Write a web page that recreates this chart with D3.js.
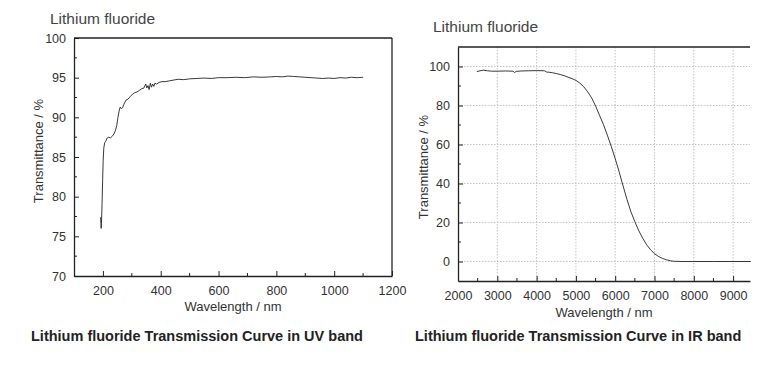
<!DOCTYPE html>
<html>
<head>
<meta charset="utf-8">
<title>Lithium fluoride</title>
<script src="https://cdn.jsdelivr.net/npm/d3@7"></script>
<style>
  body { margin: 0; background: #fff; }
  text { font-family: "Liberation Sans", Arial, sans-serif; }
</style>
</head>
<body>
<svg width="774" height="373" id="mainsvg"></svg>
<script>
// UV band: wavelength (nm), transmittance (%)
const uvWave = [192, 194, 195, 197, 199, 201, 203, 206, 210, 215, 220, 226, 232, 238, 243, 248, 252, 256, 260, 264, 268, 272, 276, 281, 287, 294, 302, 310, 318, 326, 334, 342, 348, 352, 356, 360, 364, 368, 372, 376, 380, 386, 394, 404, 416, 430, 445, 460, 480, 500, 525, 550, 575, 600, 630, 660, 690, 720, 750, 780, 800, 820, 840, 860, 880, 900, 920, 940, 960, 980, 1000, 1020, 1040, 1060, 1080, 1100];
const uvTrans = [77.4, 76.0, 76.6, 79.0, 82.0, 84.6, 86.1, 86.8, 87.0, 87.4, 87.5, 87.4, 87.6, 87.9, 88.3, 89.0, 90.0, 90.8, 91.3, 91.1, 91.2, 91.6, 91.9, 92.2, 92.3, 92.6, 92.9, 93.1, 93.2, 93.4, 93.6, 93.7, 94.2, 93.7, 94.0, 93.5, 94.3, 93.8, 94.2, 93.9, 94.3, 94.2, 94.4, 94.5, 94.5, 94.6, 94.7, 94.8, 94.75, 94.85, 94.9, 94.95, 94.9, 95.0, 95.0, 95.05, 95.0, 95.1, 95.05, 95.1, 95.15, 95.1, 95.2, 95.15, 95.1, 95.05, 95.0, 94.95, 94.9, 94.95, 94.9, 95.0, 94.95, 95.05, 95.0, 95.05];

// IR band: wavelength (nm), transmittance (%)
const irWave = [2480, 2560, 2650, 2750, 2850, 3000, 3200, 3400, 3440, 3480, 3600, 3800, 4000, 4200, 4260, 4300, 4400, 4500, 4600, 4700, 4800, 4900, 5000, 5100, 5200, 5300, 5400, 5500, 5600, 5700, 5800, 5900, 6000, 6100, 6200, 6300, 6400, 6500, 6600, 6700, 6800, 6900, 7000, 7100, 7200, 7300, 7400, 7500, 7700, 8000, 8500, 9000, 9450];
const irTrans = [97.4, 97.8, 98.1, 97.8, 97.6, 97.6, 97.7, 97.6, 96.9, 97.5, 97.7, 97.8, 97.9, 97.8, 97.1, 97.1, 96.8, 96.4, 95.9, 95.3, 94.5, 93.8, 92.9, 91.5, 89.6, 87.0, 83.9, 79.8, 75.0, 70.3, 64.8, 59.0, 52.8, 46.0, 38.8, 31.8, 25.5, 20.4, 15.8, 11.9, 8.6, 6.0, 4.0, 2.6, 1.6, 0.9, 0.4, 0.1, 0, 0, 0, 0, 0];

const uvXTicks = [200, 400, 600, 800, 1000, 1200];
const uvYTicks = [70, 75, 80, 85, 90, 95, 100];
const irXTicks = [2000, 3000, 4000, 5000, 6000, 7000, 8000, 9000];
const irYTicks = [0, 20, 40, 60, 80, 100];

const svg = d3.select('#mainsvg');
svg.append('rect').attr('width', 774).attr('height', 373).attr('fill', '#fff');

function drawPanel(o) {
  const g = svg.append('g');
  const x = d3.scaleLinear().domain(o.xDomain).range([o.left, o.right]);
  const y = d3.scaleLinear().domain(o.yDomain).range([o.bottom, o.top]);

  // grid
  if (o.grid) {
    g.selectAll('.vg').data(o.xTicks.filter(d => d > o.xDomain[0])).join('line')
      .attr('x1', d => x(d)).attr('x2', d => x(d))
      .attr('y1', o.top).attr('y2', o.bottom)
      .attr('stroke', '#c4c4c4').attr('stroke-dasharray', '1.5,1.5').attr('stroke-width', 1);
    g.selectAll('.hg').data(o.yTicks).join('line')
      .attr('x1', o.left).attr('x2', o.right)
      .attr('y1', d => y(d)).attr('y2', d => y(d))
      .attr('stroke', '#c4c4c4').attr('stroke-dasharray', '1.5,1.5').attr('stroke-width', 1);
  }

  // minor ticks
  const minorX = d3.range(o.xDomain[0], o.xDomain[1], o.xMinor).filter(d => !o.xTicks.includes(d) && d > o.xDomain[0]);
  g.selectAll('.mx').data(minorX).join('line')
    .attr('x1', d => x(d)).attr('x2', d => x(d))
    .attr('y1', o.bottom).attr('y2', o.bottom - 3)
    .attr('stroke', '#222');
  const minorY = d3.range(o.yDomain[0], o.yDomain[1], o.yMinor).filter(d => !o.yTicks.includes(d) && d > o.yDomain[0]);
  g.selectAll('.my').data(minorY).join('line')
    .attr('x1', o.left).attr('x2', o.left + 3)
    .attr('y1', d => y(d)).attr('y2', d => y(d))
    .attr('stroke', '#222');

  // axes
  const fmt = d3.format('d');
  const xAxis = d3.axisBottom(x).tickValues(o.xTicks).tickFormat(fmt).tickSizeInner(-5).tickSizeOuter(0).tickPadding(10);
  const yAxis = d3.axisLeft(y).tickValues(o.yTicks).tickFormat(fmt).tickSizeInner(-5).tickSizeOuter(0).tickPadding(8);
  const gx = g.append('g').attr('transform', `translate(0,${o.bottom})`).call(xAxis);
  const gy = g.append('g').attr('transform', `translate(${o.left},0)`).call(yAxis);
  [gx, gy].forEach(a => {
    a.select('.domain').attr('stroke', '#222').attr('stroke-width', 1.3);
    a.selectAll('.tick line').attr('stroke', '#222');
    a.selectAll('.tick text').attr('font-size', 12.5).attr('fill', '#333')
      .attr('font-family', '"Liberation Sans", Arial, sans-serif');
  });

  // frame
  g.append('line').attr('x1', o.left).attr('x2', o.right).attr('y1', o.top).attr('y2', o.top)
    .attr('stroke', '#222').attr('stroke-width', 1.3);
  if (o.rightFrame) {
    g.append('line').attr('x1', o.right).attr('x2', o.right).attr('y1', o.top).attr('y2', o.bottom)
      .attr('stroke', '#222').attr('stroke-width', 1.3);
  }

  // curve
  const pts = o.xs.map((d, i) => [d, o.ys[i]]);
  g.append('path').datum(pts)
    .attr('fill', 'none').attr('stroke', '#222').attr('stroke-width', 0.9)
    .attr('d', d3.line().x(d => x(d[0])).y(d => y(d[1])));

  // labels
  g.append('text').attr('x', (o.left + o.right) / 2).attr('y', o.xLabelY)
    .attr('text-anchor', 'middle').attr('font-size', 13).attr('fill', '#333')
    .text('Wavelength / nm');
  g.append('text').attr('transform', `translate(${o.yLabelX},${o.yLabelY}) rotate(-90)`)
    .attr('text-anchor', 'middle').attr('font-size', 13).attr('fill', '#333')
    .text('Transmittance / %');
  g.append('text').attr('x', o.titleX).attr('y', o.titleY)
    .attr('font-family', '"Open Sans", sans-serif').attr('font-size', 15.5).attr('fill', '#444')
    .text('Lithium fluoride');
  g.append('text').attr('x', o.capX).attr('y', 341)
    .attr('font-family', '"Open Sans", sans-serif').attr('font-weight', 700)
    .attr('font-size', 14.5).attr('fill', '#222')
    .text(o.caption);
}

drawPanel({
  xs: uvWave, ys: uvTrans,
  xDomain: [100, 1200], yDomain: [70, 100],
  left: 74, right: 392, top: 38, bottom: 276,
  xTicks: uvXTicks, yTicks: uvYTicks, xMinor: 100, yMinor: 2.5,
  grid: false, rightFrame: true,
  xLabelY: 311, yLabelX: 43, yLabelY: 151,
  titleX: 50, titleY: 24,
  capX: 31, caption: 'Lithium fluoride Transmission Curve in UV band'
});

drawPanel({
  xs: irWave, ys: irTrans,
  xDomain: [2000, 9430], yDomain: [-10, 110],
  left: 458, right: 750, top: 47, bottom: 281,
  xTicks: irXTicks, yTicks: irYTicks, xMinor: 500, yMinor: 10,
  grid: true, rightFrame: false,
  xLabelY: 317, yLabelX: 428, yLabelY: 167,
  titleX: 433, titleY: 32,
  capX: 415, caption: 'Lithium fluoride Transmission Curve in IR band'
});
</script>
</body>
</html>
